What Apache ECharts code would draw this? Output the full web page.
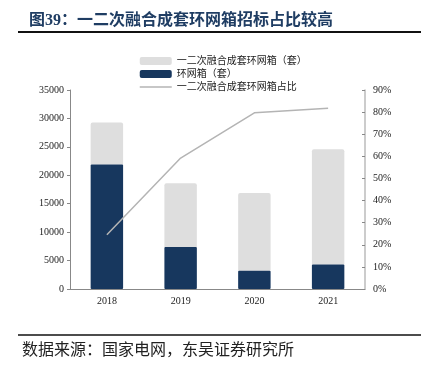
<!DOCTYPE html>
<html><head><meta charset="utf-8">
<script src="https://cdn.jsdelivr.net/npm/echarts@6/dist/echarts.min.js"></script>
<style>html,body{margin:0;padding:0;background:#fff;}#c{width:426px;height:370px;}</style>
</head><body><div id="c"></div>
<script>
const categories = ['2018', '2019', '2020', '2021'];
const ringTotal = [21900, 7400, 3200, 4300];          // 环网箱(套) (dark, bottom segment)
const fusionSets = [7400, 11200, 13700, 20300];        // 一二次融合成套环网箱(套) (gray, stacked)
const fusionShare = [24.5, 59.2, 79.7, 81.7];          // 占比 (%)
const leftTicks = {min: 0, max: 35000, interval: 5000};
const rightTicks = {min: 0, max: 90, interval: 10};

const names = ['一二次融合成套环网箱（套）', '环网箱（套）', '一二次融合成套环网箱占比'];
const serif = '"Liberation Serif", "Noto Sans CJK SC", serif';
const chart = echarts.init(document.getElementById('c'), null, {renderer: 'canvas'});
chart.setOption({
  animation: false,
  grid: {left: 70, right: 61, top: 90, bottom: 81},
  title: {
    text: '图39：一二次融合成套环网箱招标占比较高',
    left: 24, top: 8,
    textStyle: {fontFamily: serif, fontSize: 16, fontWeight: 'bold', color: '#1f3d63'}
  },
  legend: {
    orient: 'vertical', left: 134, top: 51, itemWidth: 32, itemHeight: 8, itemGap: 3,
    textStyle: {fontFamily: serif, fontSize: 10, color: '#222'},
    data: [
      {name: names[0], icon: 'roundRect'},
      {name: names[1], icon: 'roundRect'},
      {name: names[2], itemStyle: {opacity: 0}, lineStyle: {color: '#b4b4b4', width: 1.5}}
    ]
  },
  xAxis: {
    type: 'category', data: categories,
    axisLine: {lineStyle: {color: '#888', width: 1}},
    axisTick: {inside: true, length: 4, lineStyle: {color: '#888'}},
    axisLabel: {fontFamily: serif, fontSize: 10, color: '#222', margin: 7}
  },
  yAxis: [
    {
      type: 'value', min: leftTicks.min, max: leftTicks.max, interval: leftTicks.interval,
      splitLine: {show: false},
      axisLine: {show: true, lineStyle: {color: '#888'}},
      axisTick: {show: true, length: 3, lineStyle: {color: '#888'}},
      axisLabel: {fontFamily: serif, fontSize: 10, color: '#222', margin: 6, formatter: v => String(v)}
    },
    {
      type: 'value', min: rightTicks.min, max: rightTicks.max, interval: rightTicks.interval,
      splitLine: {show: false},
      axisLine: {show: true, lineStyle: {color: '#bbb', width: 1.5}},
      axisTick: {show: true, inside: true, length: 3, lineStyle: {color: '#888'}},
      axisLabel: {fontFamily: serif, fontSize: 10, color: '#222', margin: 8, formatter: '{value}%'}
    }
  ],
  series: [
    {
      name: names[1], type: 'bar', stack: 's', data: ringTotal, barWidth: '44%',
      itemStyle: {color: '#17375e', borderRadius: [1, 1, 1, 1]}, z: 3
    },
    {
      name: names[0], type: 'bar', stack: 's', data: fusionSets, barWidth: '44%',
      itemStyle: {color: '#dedede', borderRadius: [2, 2, 0, 0]}, z: 2
    },
    {
      name: names[2], type: 'line', yAxisIndex: 1, data: fusionShare,
      symbol: 'none', lineStyle: {color: '#b4b4b4', width: 1.5}, itemStyle: {color: '#b4b4b4'}, z: 5
    }
  ],
  graphic: [
    {type: 'line', shape: {x1: 18, y1: 32, x2: 421, y2: 32}, style: {stroke: '#111', lineWidth: 2}},
    {type: 'line', shape: {x1: 18, y1: 335, x2: 421, y2: 335}, style: {stroke: '#111', lineWidth: 1.5}},
    {type: 'text', left: 22, top: 343,
     style: {text: '数据来源：国家电网，东吴证券研究所', fontFamily: serif, fontSize: 16, fill: '#222'}}
  ]
});
</script></body></html>
